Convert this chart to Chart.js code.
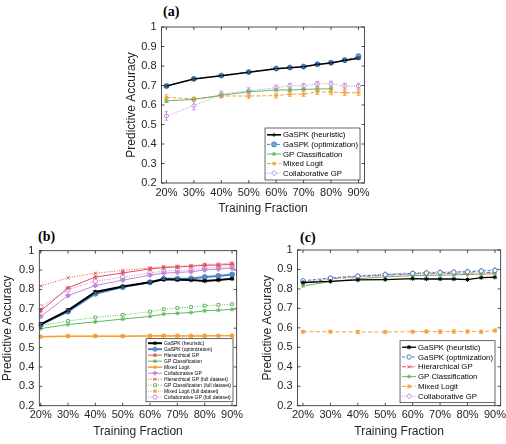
<!DOCTYPE html>
<html>
<head>
<meta charset="utf-8">
<script src="https://cdn.jsdelivr.net/npm/chart.js@4.4.1/dist/chart.umd.min.js"></script>
<style>
html,body{margin:0;padding:0;background:#fff;width:506px;height:444px;overflow:hidden;position:relative}
canvas{position:absolute}
.tag{position:absolute;font:bold 14px "Liberation Serif","DejaVu Serif",serif;line-height:14px;color:#000}
</style>
</head>
<body>
<div class="tag" style="left:163px;top:5px">(a)</div>
<div class="tag" style="left:38px;top:230px">(b)</div>
<div class="tag" style="left:300px;top:231px">(c)</div>
<canvas id="chartA" width="290" height="220" style="left:100px;top:0"></canvas>
<canvas id="chartB" width="250" height="224" style="left:0;top:220px"></canvas>
<canvas id="chartC" width="270" height="224" style="left:255px;top:220px"></canvas>
<script>
// ===== DATA =====
const fractions=[20,30,40,50,60,65,70,75,80,85,90];
const xTicks=[20,30,40,50,60,70,80,90];
const xTickLabels=["20%","30%","40%","50%","60%","70%","80%","90%"];
const yTicks=[0.2,0.3,0.4,0.5,0.6,0.7,0.8,0.9,1];
const yTickLabels=["0.2","0.3","0.4","0.5","0.6","0.7","0.8","0.9","1"];

// (a)
const aHeuristic=[0.697,0.733,0.750,0.768,0.786,0.791,0.796,0.808,0.815,0.828,0.840];
const aHeuristicErr=[0.005,0.005,0.004,0.004,0.004,0.004,0.004,0.005,0.005,0.006,0.006];
const aOptim=[0.697,0.734,0.751,0.769,0.787,0.792,0.797,0.809,0.817,0.831,0.849];
const aOptimErr=[0.006,0.006,0.005,0.005,0.005,0.005,0.005,0.007,0.007,0.008,0.012];
const aGpc=[0.621,0.629,0.650,0.668,0.677,0.677,0.680,0.682,0.683,null,null];
const aGpcErr=[0.008,0.006,0.006,0.005,0.005,0.005,0.005,0.005,0.005,0,0];
const aLogit=[0.639,0.631,0.646,0.646,0.648,0.656,0.656,0.668,0.666,0.663,0.663];
const aLogitErr=[0.014,0.010,0.010,0.012,0.012,0.012,0.012,0.014,0.014,0.014,0.014];
const aCollab=[0.544,0.597,0.656,0.673,0.688,0.699,0.699,0.708,0.709,0.697,0.697];
const aCollabErr=[0.022,0.022,0.015,0.015,0.014,0.012,0.012,0.013,0.013,0.015,0.015];

// (b)
const bHeuristic=[0.620,0.692,0.787,0.815,0.837,0.852,0.850,0.849,0.844,0.849,0.855];
const bHeuristicErr=[0.006,0.008,0.006,0.005,0.004,0.004,0.004,0.004,0.004,0.004,0.004];
const bOptim=[0.618,0.686,0.778,0.812,0.837,0.855,0.855,0.857,0.864,0.870,0.877];
const bOptimErr=[0.006,0.008,0.006,0.005,0.004,0.004,0.004,0.004,0.004,0.004,0.004];
const bHier=[0.689,0.808,0.864,0.885,0.906,0.913,0.916,0.919,0.925,0.925,0.931];
const bGpc=[0.598,0.619,0.633,0.647,0.661,0.673,0.677,0.681,0.690,0.693,0.697];
const bLogit=[0.556,0.558,0.559,0.558,0.560,0.561,0.560,0.560,0.560,0.561,0.561];
const bLogitErr=[0.006,0.006,0.007,0.006,0.006,0.006,0.006,0.006,0.006,0.006,0.006];
const bCollab=[0.660,0.768,0.820,0.848,0.874,0.884,0.888,0.891,0.901,0.905,0.910];
const bHierFull=[0.818,0.860,0.884,0.898,0.911,0.917,0.920,0.923,0.929,0.931,0.937];
const bGpcFull=[0.615,0.637,0.656,0.669,0.685,0.698,0.704,0.709,0.716,0.720,0.724];
const bLogitFull=[0.557,0.560,0.561,0.560,0.562,0.562,0.562,0.561,0.562,0.562,0.563];
const bCollabFull=[0.710,0.798,0.843,0.863,0.886,0.894,0.898,0.901,0.911,0.912,0.920];

// (c)
const cHeuristic=[0.833,0.839,0.846,0.848,0.853,0.851,0.851,0.851,0.848,0.858,0.860];
const cOptim=[0.842,0.856,0.866,0.873,0.880,0.882,0.884,0.886,0.888,0.892,0.895];
const cHier=[0.828,0.852,0.862,0.870,0.877,0.878,0.879,0.880,0.881,0.883,0.885];
const cGpc=[0.815,0.838,0.852,0.862,0.868,0.870,0.871,0.872,0.874,0.876,0.878];
const cLogit=[0.580,0.580,0.579,0.579,0.580,0.581,0.580,0.581,0.581,0.580,0.586];
const cLogitErr=[0.006,0.006,0.007,0.007,0.006,0.007,0.008,0.008,0.008,0.008,0.007];
const cCollab=[0.836,0.857,0.868,0.877,0.882,0.885,0.887,0.889,0.891,0.895,0.898];

// ===== STYLE =====
const FONT='"Liberation Sans", Arial, sans-serif';
const AX='#262626';
const BLACK='#000000', BLUE='#4a82c4', GREEN='#5fb95f', ORANGE='#f5a035', PURPLE='#c08ad6', RED='#e5505a';

function series(label,values,errs,st){
    return {
        label:label,
        data:fractions.map((x,i)=>({x:x,y:values[i]})),
        errors:errs,
        borderColor:st.color,
        backgroundColor:st.color,
        borderWidth:st.width||1,
        borderDash:st.dash||[],
        pointStyle:st.point||'star',
        pointRadius:st.r||2.2,
        pointBorderColor:st.color,
        pointBackgroundColor:st.fill||st.color,
        pointBorderWidth:st.pw||1,
        fill:false,
        tension:0,
        spanGaps:false
    };
}

// box + inward ticks on all four sides
const frame={id:'frame',afterDraw(chart){
    const {ctx,chartArea:a,scales:{x,y}}=chart;
    ctx.save();
    ctx.strokeStyle=AX;ctx.lineWidth=0.8;ctx.setLineDash([]);
    ctx.strokeRect(a.left,a.top,a.right-a.left,a.bottom-a.top);
    ctx.beginPath();
    xTicks.forEach(v=>{
        const p=x.getPixelForValue(v);
        ctx.moveTo(p,a.bottom);ctx.lineTo(p,a.bottom-3);
        ctx.moveTo(p,a.top);ctx.lineTo(p,a.top+3);
    });
    yTicks.forEach(v=>{
        const p=y.getPixelForValue(v);
        ctx.moveTo(a.left,p);ctx.lineTo(a.left+3,p);
        ctx.moveTo(a.right,p);ctx.lineTo(a.right-3,p);
    });
    ctx.stroke();
    ctx.restore();
}};

const errorBars={id:'errorBars',afterDatasetsDraw(chart){
    const ctx=chart.ctx, ys=chart.scales.y;
    chart.data.datasets.forEach((ds,i)=>{
        if(!ds.errors) return;
        const meta=chart.getDatasetMeta(i);
        ctx.save();
        ctx.strokeStyle=ds.borderColor;ctx.lineWidth=0.8;ctx.setLineDash([]);
        ctx.beginPath();
        meta.data.forEach((pt,j)=>{
            const v=ds.data[j].y, e=ds.errors[j];
            if(v==null||!e) return;
            const px=pt.x, y1=ys.getPixelForValue(v-e), y2=ys.getPixelForValue(v+e);
            ctx.moveTo(px,y1);ctx.lineTo(px,y2);
            ctx.moveTo(px-2,y1);ctx.lineTo(px+2,y1);
            ctx.moveTo(px-2,y2);ctx.lineTo(px+2,y2);
        });
        ctx.stroke();
        ctx.restore();
    });
}};

const boxLegend={id:'boxLegend',afterDraw(chart,args,o){
    const ctx=chart.ctx, a=chart.chartArea, dss=chart.data.datasets;
    ctx.save();
    ctx.font=o.size+'px '+FONT;
    let tw=0;
    dss.forEach(d=>{tw=Math.max(tw,ctx.measureText(d.label).width);});
    const w=2+o.line+2+tw+2, h=dss.length*o.row+o.pad*2;
    const right=a.right-o.right, bottom=a.bottom-o.bottom;
    const left=right-w, top=bottom-h;
    ctx.fillStyle='#fff';ctx.fillRect(left,top,w,h);
    ctx.strokeStyle=AX;ctx.lineWidth=0.7;ctx.strokeRect(left,top,w,h);
    dss.forEach((d,i)=>{
        const cy=top+o.pad+o.row*(i+0.5);
        ctx.strokeStyle=d.borderColor;ctx.lineWidth=d.borderWidth;ctx.setLineDash(d.borderDash);
        ctx.beginPath();ctx.moveTo(left+2,cy);ctx.lineTo(left+2+o.line,cy);ctx.stroke();
        ctx.setLineDash([]);ctx.lineWidth=d.pointBorderWidth;
        ctx.fillStyle=d.pointBackgroundColor;ctx.strokeStyle=d.pointBorderColor;
        Chart.helpers.drawPoint(ctx,{pointStyle:d.pointStyle,rotation:0,radius:Math.min(d.pointRadius,o.row/3),borderWidth:d.pointBorderWidth},left+2+o.line/2,cy);
        ctx.fillStyle='#000';ctx.textBaseline='middle';ctx.textAlign='left';
        ctx.fillText(d.label,left+4+o.line,cy+0.5);
    });
    ctx.restore();
}};

function makeChart(id,datasets,cfg){
    return new Chart(document.getElementById(id),{
        type:'line',
        data:{datasets:datasets},
        options:{
            responsive:false,
            animation:false,
            layout:{padding:cfg.pad},
            plugins:{legend:{display:false},tooltip:{enabled:false},boxLegend:cfg.legend},
            scales:{
                x:{
                    type:'linear',min:cfg.xMin,max:cfg.xMax,
                    afterBuildTicks:s=>{s.ticks=xTicks.map(v=>({value:v}));},
                    afterFit:s=>{s.height=cfg.xH;},
                    grid:{display:false,drawTicks:false},border:{display:false},
                    ticks:{padding:3,color:AX,maxRotation:0,autoSkip:false,font:{family:FONT,size:11},
                        callback:(v,i)=>xTickLabels[i]},
                    title:{display:true,text:'Training Fraction',color:AX,padding:0,font:{family:FONT,size:12}}
                },
                y:{
                    type:'linear',min:0.2,max:1,
                    afterBuildTicks:s=>{s.ticks=yTicks.map(v=>({value:v}));},
                    afterFit:s=>{s.width=cfg.yW;},
                    grid:{display:false,drawTicks:false},border:{display:false},
                    ticks:{padding:5,color:AX,font:{family:FONT,size:11},
                        callback:(v,i)=>yTickLabels[i]},
                    title:{display:true,text:'Predictive Accuracy',color:AX,padding:0,font:{family:FONT,size:12}}
                }
            }
        },
        plugins:[frame,errorBars,boxLegend]
    });
}

// ===== PANEL (a) =====
makeChart('chartA',[
    series('GaSPK (heuristic)',aHeuristic,aHeuristicErr,{color:BLACK,width:1.6,point:'cross',r:2}),
    series('GaSPK (optimization)',aOptim,aOptimErr,{color:BLUE,dash:[3,2],point:'circle',r:2.5,fill:'#79a5d8'}),
    series('GP Classification',aGpc,aGpcErr,{color:GREEN,point:'star',r:2}),
    series('Mixed Logit',aLogit,aLogitErr,{color:ORANGE,dash:[4,2],point:'star',r:2.2}),
    series('Collaborative GP',aCollab,aCollabErr,{color:PURPLE,dash:[1,1.5],point:'rectRot',r:2.5,fill:'#fff'})
],{xMin:18.2,xMax:92.2,xH:33.2,yW:36.7,pad:{left:24.8,top:27,right:25.5,bottom:3.8},
   legend:{size:7.8,row:9.6,pad:2,line:14,right:4.5,bottom:3}});

// ===== PANEL (b) =====
makeChart('chartB',[
    series('GaSPK (heuristic)',bHeuristic,bHeuristicErr,{color:BLACK,width:2,point:'star',r:2.3}),
    series('GaSPK (optimization)',bOptim,bOptimErr,{color:BLUE,width:2,point:'circle',r:2.5,fill:'#6d9dd3'}),
    series('Hierarchical GP',bHier,null,{color:RED,point:'star',r:2.3}),
    series('GP Classification',bGpc,null,{color:GREEN,point:'star',r:2.2}),
    series('Mixed Logit',bLogit,bLogitErr,{color:ORANGE,width:1.5,point:'star',r:2.3}),
    series('Collaborative GP',bCollab,null,{color:PURPLE,point:'rectRot',r:2.5}),
    series('Hierarchical GP (full dataset)',bHierFull,null,{color:RED,dash:[1,1.5],point:'crossRot',r:2.2}),
    series('GP Classification (full dataset)',bGpcFull,null,{color:GREEN,dash:[1,1.5],point:'rect',r:2,fill:'#fff'}),
    series('Mixed Logit (full dataset)',bLogitFull,null,{color:ORANGE,dash:[1,1.5],point:'star',r:2.2}),
    series('Collaborative GP (full dataset)',bCollabFull,null,{color:PURPLE,dash:[1,1.5],point:'circle',r:2.3,fill:'#fff'})
],{xMin:19.5,xMax:91.7,xH:33.2,yW:39.3,pad:{left:0,top:30.7,right:13.3,bottom:5.1},
   legend:{size:5,row:6,pad:1.5,line:14,right:3.7,bottom:4}});

// ===== PANEL (c) =====
makeChart('chartC',[
    series('GaSPK (heuristic)',cHeuristic,null,{color:BLACK,width:1.3,point:'star',r:2.2}),
    series('GaSPK (optimization)',cOptim,null,{color:BLUE,dash:[3,2],point:'circle',r:2.2,fill:'#fff'}),
    series('Hierarchical GP',cHier,null,{color:RED,dash:[4,1.5,1,1.5],point:'crossRot',r:2}),
    series('GP Classification',cGpc,null,{color:GREEN,point:'star',r:2}),
    series('Mixed Logit',cLogit,cLogitErr,{color:ORANGE,dash:[4,2.5],point:'star',r:2.3}),
    series('Collaborative GP',cCollab,null,{color:PURPLE,dash:[1,1.5],point:'rectRot',r:2.5,fill:'#fff'})
],{xMin:18,xMax:92.1,xH:33.2,yW:36.7,pad:{left:5.8,top:30,right:24.3,bottom:5.1},
   legend:{size:7.8,row:9.8,pad:1.6,line:14,right:5.7,bottom:3}});
</script>
</body>
</html>
